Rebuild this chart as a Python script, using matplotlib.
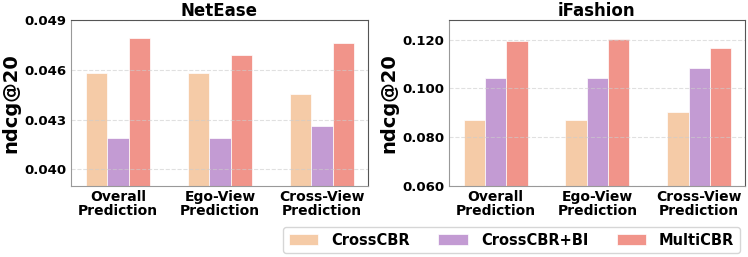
import matplotlib.pyplot as plt
import numpy as np

categories = ['Overall\nPrediction', 'Ego-View\nPrediction', 'Cross-View\nPrediction']
methods = ['CrossCBR', 'CrossCBR+BI', 'MultiCBR']
colors = ['#F5CBA7', '#C39BD3', '#F1948A']

netease = {
    'CrossCBR': [0.0458, 0.0458, 0.04456],
    'CrossCBR+BI': [0.0419, 0.0419, 0.04262],
    'MultiCBR': [0.0479, 0.0469, 0.0476],
}
ifashion = {
    'CrossCBR': [0.0872, 0.0872, 0.0903],
    'CrossCBR+BI': [0.1042, 0.1042, 0.1082],
    'MultiCBR': [0.1193, 0.1204, 0.1165],
}

netease_ticks = [0.040, 0.043, 0.046, 0.049]
ifashion_ticks = [0.060, 0.080, 0.100, 0.120]

fig = plt.figure(figsize=(7.48, 2.57), dpi=100)
ax1 = fig.add_axes([0.0949, 0.276, 0.397, 0.646])
ax2 = fig.add_axes([0.600, 0.276, 0.396, 0.646])

x = np.arange(len(categories))
width = 0.21


def draw(ax, data, title, ticks, ylim):
    for i, m in enumerate(methods):
        ax.bar(x + (i - 1) * width, data[m], width, color=colors[i],
               edgecolor='white', linewidth=0.5, label=m, zorder=1)
    ax.set_ylim(*ylim)
    ax.set_xlim(-0.46, 2.45)
    ax.set_yticks(ticks)
    ax.set_yticklabels([f'{t:.3f}' for t in ticks], fontsize=9.5, fontweight='bold')
    ax.set_xticks(x)
    ax.set_xticklabels(categories, fontsize=10, fontweight='bold', linespacing=1.0)
    ax.tick_params(axis='both', length=0, pad=3)
    ax.set_title(title, fontsize=12, fontweight='bold', pad=3)
    ax.set_ylabel('ndcg@20', fontsize=14, fontweight='bold', labelpad=3)
    ax.grid(axis='y', linestyle='--', color='#cccccc', alpha=0.6, linewidth=0.8, zorder=2)
    ax.set_axisbelow(False)
    for s in ['top', 'right']:
        ax.spines[s].set_color('#555555')
        ax.spines[s].set_zorder(3)
    for s in ['left', 'bottom']:
        ax.spines[s].set_color('#999999')
        ax.spines[s].set_zorder(3)


draw(ax1, netease, 'NetEase', netease_ticks, (0.039, 0.049))
draw(ax2, ifashion, 'iFashion', ifashion_ticks, (0.060, 0.128))

handles, labels = ax1.get_legend_handles_labels()
fig.legend(handles, labels, loc='center', bbox_to_anchor=(0.684, 0.066), ncol=3,
           prop={'size': 10.5, 'weight': 'bold'}, frameon=True, columnspacing=1.95,
           borderpad=0.4, handletextpad=0.9)

fig.savefig('out.png', dpi=100)
